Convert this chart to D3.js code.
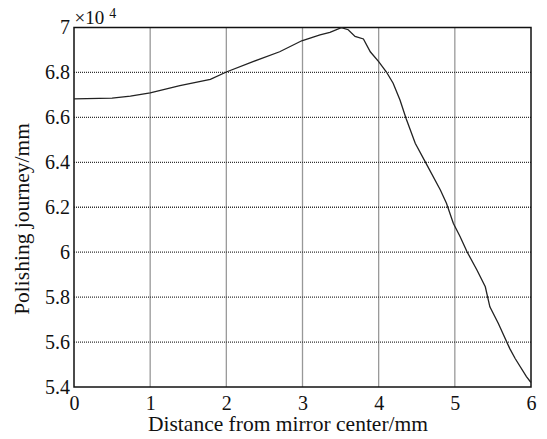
<!DOCTYPE html>
<html>
<head>
<meta charset="utf-8">
<script src="https://cdn.jsdelivr.net/npm/d3@7"></script>
</head>
<body style="margin:0">
<script>
const serif = "'Liberation Serif', 'Times New Roman', Times";

// distance from mirror center (mm)
const distance = [0, 0.5, 0.74, 1.0, 1.39, 1.79, 2.0, 2.35, 2.7, 2.99, 3.23, 3.36, 3.51, 3.6, 3.69, 3.8, 3.89, 4.0, 4.1, 4.19, 4.28, 4.36, 4.48, 4.61, 4.81, 4.89, 4.98, 5.07, 5.16, 5.29, 5.4, 5.46, 5.57, 5.72, 5.79, 5.94, 6.0];
// polishing journey (x10^4 mm)
const journey = [6.682, 6.686, 6.695, 6.709, 6.741, 6.769, 6.802, 6.848, 6.892, 6.941, 6.967, 6.978, 6.999, 6.99, 6.96, 6.949, 6.892, 6.848, 6.803, 6.752, 6.677, 6.595, 6.485, 6.403, 6.277, 6.218, 6.129, 6.069, 6.002, 5.921, 5.846, 5.757, 5.684, 5.572, 5.528, 5.446, 5.42];
const xTicks = [0, 1, 2, 3, 4, 5, 6];
const yTicks = [5.4, 5.6, 5.8, 6, 6.2, 6.4, 6.6, 6.8, 7];
const xTickLabels = ["0", "1", "2", "3", "4", "5", "6"];
const yTickLabels = ["5.4", "5.6", "5.8", "6", "6.2", "6.4", "6.6", "6.8", "7"];

const w = 547, h = 439;
const margin = { top: 27.5, right: 16, bottom: 52, left: 74 };

const svg = d3.select("body").append("svg")
    .attr("width", w)
    .attr("height", h);

const x = d3.scaleLinear().domain([0, 6]).range([margin.left, w - margin.right]);
const y = d3.scaleLinear().domain([5.4, 7]).range([h - margin.bottom, margin.top]);

// grid (dotted)
svg.selectAll(".vx").data(xTicks.slice(1, -1)).enter().append("line")
    .attr("x1", d => x(d)).attr("x2", d => x(d))
    .attr("y1", y(7)).attr("y2", y(5.4))
    .attr("stroke", "#333").attr("stroke-width", 1.3).attr("stroke-dasharray", "1,1");
svg.selectAll(".hy").data(yTicks.slice(1, -1)).enter().append("line")
    .attr("x1", x(0)).attr("x2", x(6))
    .attr("y1", d => y(d)).attr("y2", d => y(d))
    .attr("stroke", "#333").attr("stroke-width", 1.3).attr("stroke-dasharray", "1,1");

// tick labels
const xAxis = d3.axisBottom(x).tickValues(xTicks).tickSize(0).tickPadding(8.5)
    .tickFormat((d, i) => xTickLabels[i]);
const yAxis = d3.axisLeft(y).tickValues(yTicks).tickSize(0).tickPadding(4)
    .tickFormat((d, i) => yTickLabels[i]);

const gx = svg.append("g")
    .attr("transform", "translate(0," + y(5.4) + ")")
    .call(xAxis);
gx.select(".domain").remove();
gx.attr("font-family", null).attr("font-size", null);
gx.selectAll("text")
    .style("font-family", serif).style("font-size", "20px").attr("fill", "#111");

const gy = svg.append("g")
    .attr("transform", "translate(" + x(0) + ",0)")
    .call(yAxis);
gy.select(".domain").remove();
gy.attr("font-family", null).attr("font-size", null);
gy.selectAll("text")
    .style("font-family", serif).style("font-size", "20px").attr("fill", "#111");

// frame
svg.append("rect")
    .attr("x", x(0)).attr("y", y(7))
    .attr("width", x(6) - x(0)).attr("height", y(5.4) - y(7))
    .attr("fill", "none").attr("stroke", "#111").attr("stroke-width", 1.5);

// curve
const line = d3.line()
    .x((d, i) => x(distance[i]))
    .y(d => y(d));

svg.append("path")
    .datum(journey)
    .attr("d", line)
    .attr("fill", "none")
    .attr("stroke", "#222")
    .attr("stroke-width", 1.3);

// exponent label
const exp = svg.append("text")
    .attr("x", x(0) + 0.5)
    .attr("y", 23.5)
    .attr("fill", "#111")
    .style("font-family", serif)
    .style("font-size", "19px");
exp.append("tspan").text("\u00d710");
exp.append("tspan").attr("dy", -6).attr("dx", 5).style("font-size", "14px").text("4");

// axis labels
svg.append("text")
    .attr("x", 288)
    .attr("y", 431)
    .attr("text-anchor", "middle")
    .attr("fill", "#111")
    .style("font-family", serif)
    .style("font-size", "21.5px")
    .text("Distance from mirror center/mm");

svg.append("text")
    .attr("transform", "translate(29," + 219 + ") rotate(-90)")
    .attr("text-anchor", "middle")
    .attr("fill", "#111")
    .style("font-family", serif)
    .style("font-size", "21.5px")
    .text("Polishing journey/mm");
</script>
</body>
</html>
